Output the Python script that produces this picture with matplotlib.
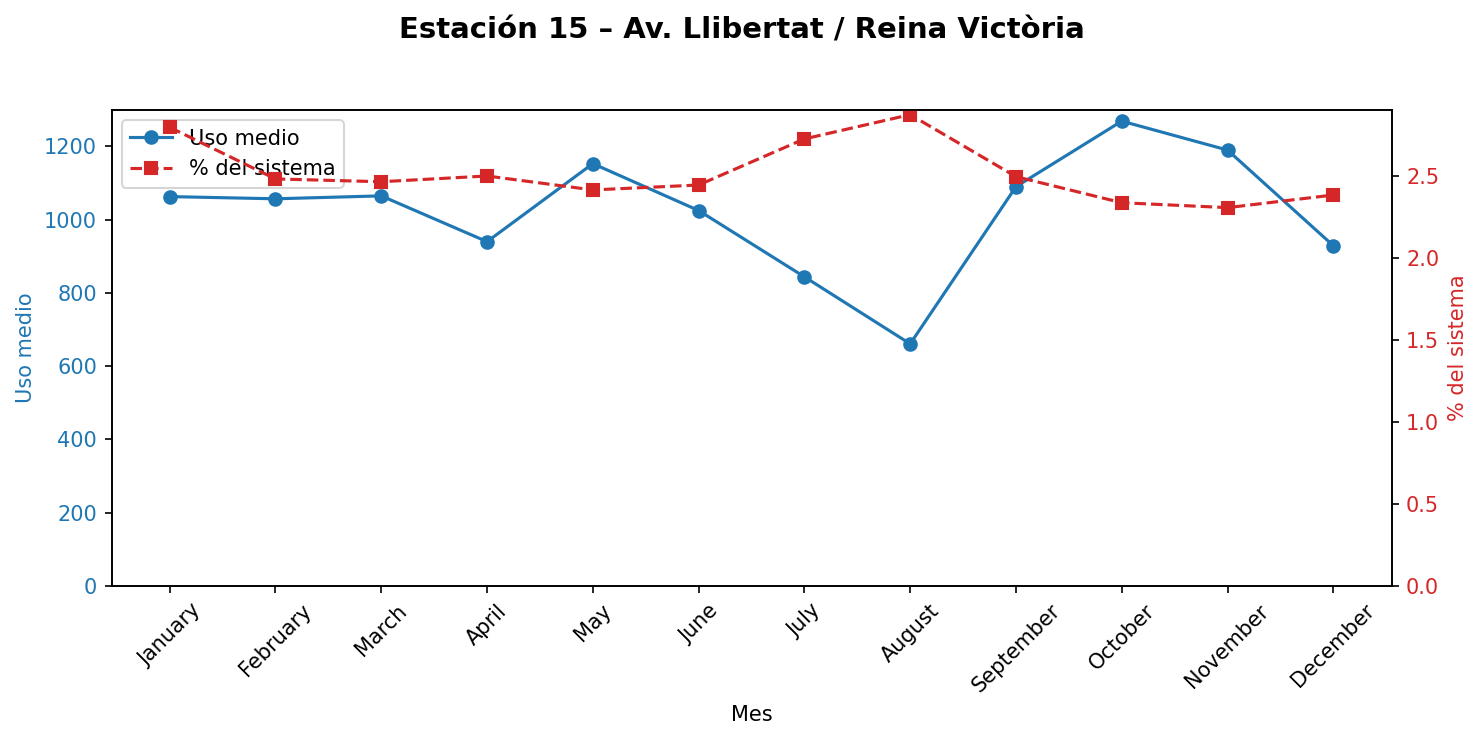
import matplotlib.pyplot as plt

# Monthly data for station 15
months = ["January", "February", "March", "April", "May", "June",
          "July", "August", "September", "October", "November", "December"]
uso_medio = [1063, 1057, 1065, 940, 1153, 1025, 844, 661, 1090, 1269, 1190, 929]
pct_sistema = [2.797, 2.482, 2.465, 2.50, 2.415, 2.445, 2.726, 2.874, 2.496, 2.337, 2.307, 2.384]

fig, ax1 = plt.subplots(figsize=(1483/150, 740/150), dpi=150)

l1, = ax1.plot(months, uso_medio, color="tab:blue", marker="o", label="Uso medio")
ax1.set_xlabel("Mes")
ax1.set_ylabel("Uso medio", color="tab:blue")
ax1.tick_params(axis="y", labelcolor="tab:blue")
ax1.tick_params(axis="x", rotation=45)
ax1.set_ylim(bottom=0)

ax2 = ax1.twinx()
l2, = ax2.plot(months, pct_sistema, color="tab:red", marker="s", linestyle="--",
               label="% del sistema")
ax2.set_ylabel("% del sistema", color="tab:red")
ax2.tick_params(axis="y", labelcolor="tab:red")
ax2.set_ylim(bottom=0)

ax1.legend(handles=[l1, l2], loc="upper left")

fig.suptitle("Estación 15 – Av. Llibertat / Reina Victòria", fontsize=14,
             fontweight="bold", y=0.978)
fig.subplots_adjust(left=111.5/1483, right=1391.5/1483, top=1-110/740, bottom=1-586/740)
fig.savefig("out.png", dpi=150)
